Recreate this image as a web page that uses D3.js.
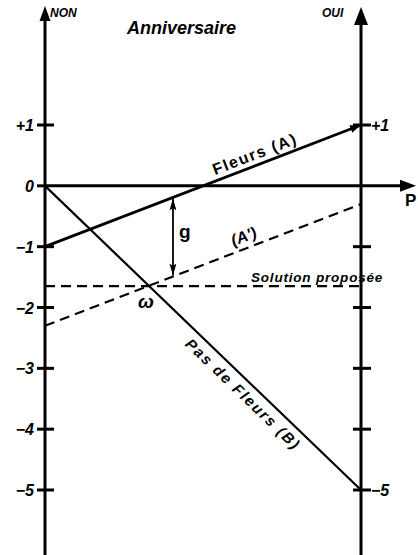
<!DOCTYPE html>
<html>
<head>
<meta charset="utf-8">
<script src="https://cdn.jsdelivr.net/npm/d3@7"></script>
<style>
  body { margin: 0; background: #fff; }
  svg text { font-family: "Liberation Sans", Arial, sans-serif; font-style: italic; font-weight: bold; fill: #000; }
</style>
</head>
<body>
<div id="chart"></div>
<script>
// values
var leftTicks = [1, 0, -1, -2, -3, -4, -5];
var leftTickLabels = ["+1", "0", "\u22121", "\u22122", "\u22123", "\u22124", "\u22125"];
var rightTicks = [1, -1, -2, -3, -4, -5];
var rightTickLabels = {"1": "+1", "-5": "\u22125"};

var lineA = [[0, -1], [1, 1]];           // Fleurs (A)
var lineAprime = [[0, -2.3], [1, -0.3]]; // (A')
var lineB = [[0, 0], [1, -5]];           // Pas de Fleurs (B)
var solutionLevel = -1.65;
var gPosition = 0.405;

var svgWidth = 418;
var svgHeight = 555;

var svg = d3.select("#chart")
  .append("svg")
  .attr("width", svgWidth)
  .attr("height", svgHeight);

// x: 0 = NON, 1 = OUI
var x = d3.scaleLinear().domain([0, 1]).range([45, 361]);
var y = d3.scaleLinear().domain([-5, 1]).range([490, 125]);

var line = d3.line().x(d => x(d[0])).y(d => y(d[1]));

// small arrow markers for g and line A
var defs = svg.append("defs");
defs.append("marker")
  .attr("id", "small")
  .attr("viewBox", "0 0 10 10")
  .attr("refX", 10).attr("refY", 5)
  .attr("markerWidth", 12).attr("markerHeight", 7)
  .attr("markerUnits", "userSpaceOnUse")
  .attr("orient", "auto-start-reverse")
  .attr("preserveAspectRatio", "none")
  .append("path").attr("d", "M0,0 L10,5 L0,10 L2,5 Z").attr("fill", "#000");
defs.append("marker")
  .attr("id", "lineHead")
  .attr("viewBox", "0 0 10 10")
  .attr("refX", 10).attr("refY", 5)
  .attr("markerWidth", 11).attr("markerHeight", 8)
  .attr("markerUnits", "userSpaceOnUse")
  .attr("orient", "auto")
  .attr("preserveAspectRatio", "none")
  .append("path").attr("d", "M0,0 L10,5 L0,10 Z").attr("fill", "#000");

// vertical axes
svg.append("line")
  .attr("x1", x(0)).attr("x2", x(0))
  .attr("y1", svgHeight).attr("y2", 16)
  .attr("stroke", "#000").attr("stroke-width", 3);
svg.append("path")
  .attr("d", `M${x(0)},6 L${x(0) + 5.5},21 L${x(0) - 5.5},21 Z`)
  .attr("fill", "#000");

svg.append("line")
  .attr("x1", x(1)).attr("x2", x(1))
  .attr("y1", svgHeight).attr("y2", 18)
  .attr("stroke", "#000").attr("stroke-width", 3);
svg.append("path")
  .attr("d", `M${x(1)},7 L${x(1) + 7},25 L${x(1) - 7},25 Z`)
  .attr("fill", "#000");

// horizontal axis P
svg.append("line")
  .attr("x1", x(0)).attr("x2", 404)
  .attr("y1", y(0)).attr("y2", y(0))
  .attr("stroke", "#000").attr("stroke-width", 3);
svg.append("path")
  .attr("d", `M416,${y(0)} L400,${y(0) - 6} L400,${y(0) + 6} Z`)
  .attr("fill", "#000");

// left ticks
svg.selectAll(".ltick")
  .data(leftTicks)
  .enter()
  .append("line")
  .attr("class", "ltick")
  .attr("x1", x(0) - 8).attr("x2", d => d === 0 ? x(0) : x(0) + 9)
  .attr("y1", d => y(d)).attr("y2", d => y(d))
  .attr("stroke", "#000").attr("stroke-width", 3);

svg.selectAll(".llab")
  .data(leftTicks)
  .enter()
  .append("text")
  .attr("class", "llab")
  .attr("x", x(0) - 11)
  .attr("y", d => y(d) + 6)
  .attr("text-anchor", "end")
  .style("font-size", "16px")
  .text((d, i) => leftTickLabels[i]);

// right ticks
svg.selectAll(".rtick")
  .data(rightTicks)
  .enter()
  .append("line")
  .attr("class", "rtick")
  .attr("x1", x(1) - 8).attr("x2", x(1) + 10)
  .attr("y1", d => y(d)).attr("y2", d => y(d))
  .attr("stroke", "#000").attr("stroke-width", 3);

svg.selectAll(".rlab")
  .data(rightTicks.filter(d => rightTickLabels[d]))
  .enter()
  .append("text")
  .attr("class", "rlab")
  .attr("x", x(1) + 10)
  .attr("y", d => y(d) + 6)
  .style("font-size", "16px")
  .text(d => rightTickLabels[d]);

// lines
svg.append("path")
  .datum(lineA)
  .attr("d", line)
  .attr("fill", "none").attr("stroke", "#000").attr("stroke-width", 2.8)
  .attr("marker-end", "url(#lineHead)");

svg.append("path")
  .datum(lineB)
  .attr("d", line)
  .attr("fill", "none").attr("stroke", "#000").attr("stroke-width", 2.2);

svg.append("path")
  .datum(lineAprime)
  .attr("d", line)
  .attr("fill", "none").attr("stroke", "#000").attr("stroke-width", 2.2)
  .attr("stroke-dasharray", "10,6");

svg.append("line")
  .attr("x1", x(0)).attr("x2", x(1))
  .attr("y1", y(solutionLevel)).attr("y2", y(solutionLevel))
  .attr("stroke", "#000").attr("stroke-width", 2.2)
  .attr("stroke-dasharray", "10,6");

// g arrow between A and A'
var yA = lineA[0][1] + (lineA[1][1] - lineA[0][1]) * gPosition;
var yAp = lineAprime[0][1] + (lineAprime[1][1] - lineAprime[0][1]) * gPosition;
svg.append("line")
  .attr("x1", x(gPosition)).attr("x2", x(gPosition))
  .attr("y1", y(yA) + 1).attr("y2", y(yAp) - 1)
  .attr("stroke", "#000").attr("stroke-width", 1.8)
  .attr("marker-start", "url(#small)")
  .attr("marker-end", "url(#small)");

svg.append("text")
  .attr("x", x(gPosition) + 6).attr("y", (y(yA) + y(yAp)) / 2 + 1)
  .style("font-size", "19px").style("font-style", "normal")
  .text("g");

// titles
svg.append("text").attr("x", 127).attr("y", 34)
  .style("font-size", "18px").text("Anniversaire");
svg.append("text").attr("x", 50).attr("y", 17)
  .style("font-size", "12px").text("NON");
svg.append("text").attr("x", 322).attr("y", 17)
  .style("font-size", "12px").text("OUI");
svg.append("text").attr("x", 405).attr("y", 206)
  .style("font-size", "17px").style("font-style", "normal").text("P");

// line labels
var angA = Math.atan2(y(lineA[1][1]) - y(lineA[0][1]), x(1) - x(0)) * 180 / Math.PI;
var angB = Math.atan2(y(lineB[1][1]) - y(lineB[0][1]), x(1) - x(0)) * 180 / Math.PI;

svg.append("text")
  .attr("transform", `translate(${x(0.67)}, ${y(-1 + 2 * 0.67) - 6}) rotate(${angA})`)
  .attr("text-anchor", "middle")
  .style("font-size", "16px").style("font-style", "normal")
  .style("letter-spacing", "1.5px")
  .text("Fleurs (A)");

svg.append("text")
  .attr("transform", `translate(${x(0.635)}, ${y(-2.3 + 2 * 0.635) - 7}) rotate(${angA})`)
  .attr("text-anchor", "middle")
  .style("font-size", "16px")
  .text("(A')");

svg.append("text")
  .attr("x", 251).attr("y", 282)
  .style("font-size", "13.5px")
  .style("letter-spacing", "0.8px")
  .text("Solution proposée");

svg.append("text")
  .attr("x", 146).attr("y", 308)
  .attr("text-anchor", "middle")
  .style("font-size", "19px")
  .text("\u03c9");

svg.append("text")
  .attr("transform", `translate(${x(0.655)}, ${y(-5 * 0.655)}) rotate(${angB}) translate(0, 18)`)
  .attr("text-anchor", "middle")
  .style("font-size", "15px")
  .style("letter-spacing", "1.8px")
  .text("Pas de Fleurs  (B)");
</script>
</body>
</html>
